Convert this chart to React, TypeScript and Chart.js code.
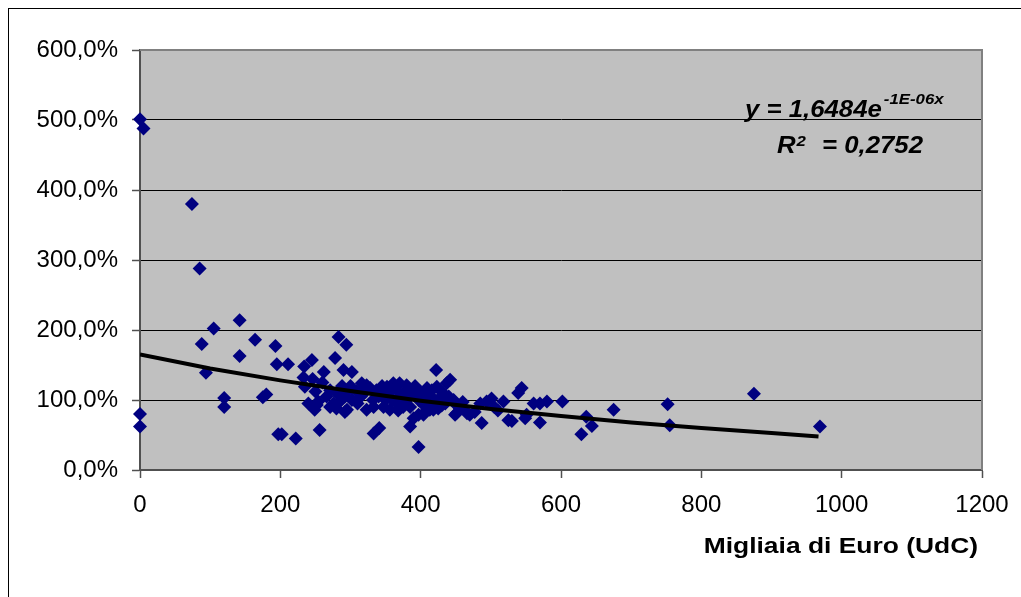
import React, { useEffect, useRef } from "react";
import { Chart, registerables } from "chart.js";

Chart.register(...registerables);

// ---- Data (x: migliaia di Euro, y: percent) ----
const pointX = [
  0, 5, 0, 0, 74, 85, 88, 105, 94, 120, 120, 142, 142, 164, 175, 180, 193, 195, 197, 211, 202, 222,
  234, 245, 233, 235, 246, 249, 252, 254, 256, 262, 266, 271, 271, 276, 278, 280, 280, 283, 285, 290,
  292, 294, 295, 292, 302, 302, 309, 316, 320, 323, 323, 323, 328, 332, 333, 333, 337, 341, 342, 347,
  352, 356, 361, 366, 370, 375, 380, 385, 385, 390, 390, 397, 397, 397, 399, 404, 406, 409, 413, 416,
  418, 422, 423, 425, 432, 435, 437, 442, 447, 449, 451, 456, 451, 466, 470, 477, 485, 487, 494, 501,
  518, 525, 530, 539, 544, 549, 551, 561, 570, 570, 580, 602, 629, 636, 644, 675, 752, 755, 875, 969,
  345, 355, 365, 372, 378, 383, 392, 395, 403, 411, 420, 428, 440, 300, 310, 315, 340, 350, 360, 368,
  378, 405, 415, 430, 460, 505, 510, 250, 260, 240, 288, 298,
];
const pointY = [
  501, 488, 80, 62, 380, 288, 180, 202, 139, 103, 90, 214, 163, 186, 104, 108, 177, 151, 51, 151, 51, 45,
  148, 157, 132, 119, 130, 86, 93, 98, 57, 140, 105, 114, 90, 95, 160, 110, 88, 190, 98, 143,
  105, 179, 86, 83, 140, 100, 112, 124, 118, 121, 114, 86, 117, 100, 90, 52, 114, 60, 114, 90,
  119, 86, 124, 95, 124, 90, 121, 90, 62, 114, 74, 33, 79, 100, 112, 79, 83, 117, 86, 114,
  86, 143, 119, 88, 110, 95, 124, 129, 100, 79, 93, 88, 81, 81, 79, 83, 95, 67, 98, 102,
  98, 71, 70, 110, 117, 74, 79, 95, 95, 68, 98, 98, 51, 76, 63, 86, 94, 64, 109, 62,
  120, 110, 115, 105, 112, 106, 120, 105, 108, 103, 100, 104, 105, 120, 95, 105, 105, 100, 100, 85,
  98, 92, 95, 92, 97, 90, 85, 112, 125, 95, 120, 115,
];

// Trend line
const trendX = [0, 100, 200, 300, 400, 500, 600, 700, 800, 900, 967];
const trendY = [165, 145, 128, 113, 99, 87, 77, 68, 60, 53, 48];

const xMin = 0;
const xMax = 1200;
const xStep = 200;
const yMin = 0;
const yMax = 600;
const yStep = 100;

const xAxisTitle = "Migliaia di Euro (UdC)";
const eqMain = "y = 1,6484e";
const eqExp = "-1E-06x";
const r2Label = "R";
const r2Sup = "2";
const r2Value = "= 0,2752";

const FONT = "'Liberation Sans', Arial, sans-serif";

function stretchText(
  ctx: CanvasRenderingContext2D,
  text: string,
  x: number,
  y: number,
  font: string,
  sx: number,
  align: CanvasTextAlign = "left"
): number {
  ctx.save();
  ctx.translate(x, y);
  ctx.scale(sx, 1);
  ctx.font = font;
  ctx.fillStyle = "#000";
  ctx.textBaseline = "alphabetic";
  ctx.textAlign = align;
  ctx.fillText(text, 0, 0);
  const w = ctx.measureText(text).width * sx;
  ctx.restore();
  return w;
}

const plotPlugin = {
  id: "plotDecor",
  beforeDraw(chart: any) {
    const { ctx, chartArea: a } = chart;
    ctx.save();
    ctx.fillStyle = "#C0C0C0";
    ctx.fillRect(a.left, a.top, a.right - a.left, a.bottom - a.top);
    ctx.restore();
  },
  beforeDatasetsDraw(chart: any) {
    const { ctx, chartArea: a } = chart;
    ctx.save();
    ctx.strokeStyle = "#808080";
    ctx.lineWidth = 2;
    ctx.beginPath();
    ctx.moveTo(a.left, a.top);
    ctx.lineTo(a.right, a.top);
    ctx.lineTo(a.right, a.bottom);
    ctx.stroke();
    ctx.restore();
  },
  afterDatasetsDraw(chart: any) {
    const { ctx, chartArea: a } = chart;
    const sx = 1.12;
    const mainFont = `italic bold 23px ${FONT}`;
    const supFont = `italic bold 15px ${FONT}`;
    const x0 = a.right - 237;
    const w = stretchText(ctx, eqMain, x0, a.top + 67, mainFont, sx);
    stretchText(ctx, eqExp, x0 + w + 2, a.top + 54, supFont, sx);
    const rx = a.right - 205;
    const wr = stretchText(ctx, r2Label, rx, a.top + 103, mainFont, sx);
    stretchText(ctx, r2Sup, rx + wr + 1, a.top + 96, supFont, sx);
    stretchText(ctx, r2Value, a.right - 160, a.top + 103, mainFont, sx);
  },
  afterDraw(chart: any) {
    const { ctx, chartArea: a } = chart;
    stretchText(ctx, xAxisTitle, a.right - 4, a.bottom + 83, `bold 22px ${FONT}`, 1.2, "right");
  },
};

export default function App() {
  const canvasRef = useRef<HTMLCanvasElement | null>(null);

  useEffect(() => {
    const canvas = canvasRef.current;
    if (!canvas) return;
    const points = pointX.map((x, i) => ({ x, y: pointY[i] }));
    const trend = trendX.map((x, i) => ({ x, y: trendY[i] }));

    const chart = new Chart(canvas, {
      type: "scatter",
      data: {
        datasets: [
          {
            label: "trend",
            data: trend,
            showLine: true,
            borderColor: "#000000",
            borderWidth: 4,
            pointRadius: 0,
            tension: 0,
            fill: false,
          } as any,
          {
            label: "dati",
            data: points,
            pointStyle: "rectRot",
            pointRadius: 7,
            pointBackgroundColor: "#000080",
            pointBorderColor: "#000080",
            pointBorderWidth: 0,
            showLine: false,
            clip: false,
          } as any,
        ],
      },
      options: {
        responsive: false,
        animation: false,
        devicePixelRatio: 1,
        layout: { padding: { top: 41, right: 31, bottom: 0, left: 0 } },
        plugins: {
          legend: { display: false },
          tooltip: { enabled: false },
          title: { display: false },
        },
        scales: {
          x: {
            type: "linear",
            min: xMin,
            max: xMax,
            afterFit(scale: any) {
              scale.height = 119;
              scale.paddingLeft = 0;
              scale.paddingRight = 0;
            },
            ticks: {
              stepSize: xStep,
              color: "#000",
              font: { family: FONT, size: 24 },
              padding: 13,
              maxRotation: 0,
              callback: (v: any) => String(v),
            },
            grid: {
              drawOnChartArea: false,
              drawTicks: true,
              tickLength: 8,
              tickColor: "#505050",
              tickWidth: 1.5,
            },
            border: { display: true, color: "#505050", width: 2 },
            title: { display: false },
          },
          y: {
            type: "linear",
            min: yMin,
            max: yMax,
            afterFit(scale: any) {
              scale.width = 131;
            },
            ticks: {
              stepSize: yStep,
              color: "#000",
              font: { family: FONT, size: 24 },
              padding: 14,
              callback: (v: any) => `${Number(v).toFixed(1).replace(".", ",")}%`,
            },
            grid: {
              drawOnChartArea: true,
              color: (c: any) => (c.tick && c.tick.value === yMax ? "#808080" : "#000000"),
              lineWidth: 1,
              tickLength: 8,
              tickColor: "#505050",
              tickWidth: 1.5,
            },
            border: { display: true, color: "#505050", width: 2 },
          },
        },
      },
      plugins: [plotPlugin],
    } as any);

    return () => chart.destroy();
  }, []);

  return (
    <div
      style={{
        position: "fixed",
        left: 8,
        top: 8,
        width: 1030,
        height: 610,
        boxSizing: "border-box",
        borderLeft: "1px solid #000",
        borderTop: "1px solid #000",
        background: "#fff",
      }}
    >
      <canvas
        ref={canvasRef}
        width={1004}
        height={580}
        style={{ display: "block", width: 1004, height: 580 }}
      />
    </div>
  );
}
